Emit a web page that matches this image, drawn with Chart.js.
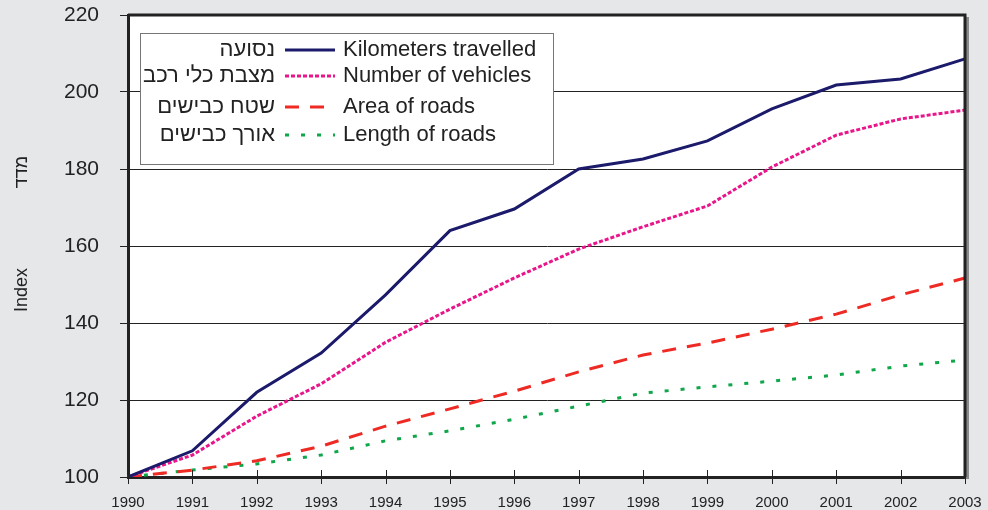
<!DOCTYPE html>
<html>
<head>
<meta charset="utf-8">
<script src="https://cdn.jsdelivr.net/npm/chart.js@4/dist/chart.umd.min.js"></script>
<style>
  html, body { margin: 0; padding: 0; background: #e6e7e9; }
  #wrap { width: 988px; height: 510px; }
</style>
</head>
<body>
<div id="wrap"><canvas id="chart" width="988" height="510"></canvas></div>
<script>
const years = ['1990','1991','1992','1993','1994','1995','1996','1997','1998','1999','2000','2001','2002','2003'];
const kmTravelled = [100, 106.8, 122, 132.2, 147.3, 164, 169.6, 180, 182.6, 187.3, 195.6, 201.8, 203.4, 208.6];
const vehicles = [100, 105.7, 115.8, 124.2, 135, 143.6, 151.7, 159.2, 165, 170.4, 180.5, 188.8, 193, 195.3];
const roadArea = [100, 101.8, 104.2, 108, 113.2, 117.7, 122.3, 127.3, 131.7, 134.8, 138.4, 142.3, 147.3, 151.7];
const roadLength = [100, 101.8, 103.4, 105.7, 109.4, 112, 115, 118.4, 121.8, 123.4, 124.9, 126.5, 128.8, 130.4];
const labelsEn = ['Kilometers travelled', 'Number of vehicles', 'Area of roads', 'Length of roads'];
const labelsHe = ['נסועה', 'מצבת כלי רכב', 'שטח כבישים', 'אורך כבישים'];

const FONT = '"Liberation Sans", Arial, sans-serif';
const legendRows = [50, 76, 107, 135];

// frame, crossing x ticks, legend box and axis titles
const extras = {
    id: 'extras',
    afterDraw(chart) {
        const c = chart.ctx, a = chart.chartArea;
        const x = chart.scales.x;
        c.save();
        // shadow on right side
        c.fillStyle = '#8a8a8a';
        c.fillRect(a.right + 1, a.top + 2, 3, a.bottom - a.top);
        c.strokeStyle = '#222';
        c.lineWidth = 3;
        c.beginPath();
        c.moveTo(a.left, a.top); c.lineTo(a.right, a.top); c.lineTo(a.right, a.bottom);
        c.stroke();
        // x ticks crossing the axis
        c.lineWidth = 1;
        years.forEach((y, i) => {
            const px = Math.round(x.getPixelForValue(i)) + 0.5;
            c.beginPath();
            c.moveTo(px, a.bottom - 7); c.lineTo(px, a.bottom + 7);
            c.stroke();
        });
        // legend box
        const bx = 140, by = 33, bw = 413, bh = 131;
        c.fillStyle = '#fff';
        c.fillRect(bx, by, bw, bh);
        c.strokeStyle = '#777';
        c.lineWidth = 1;
        c.strokeRect(bx + 0.5, by + 0.5, bw, bh);
        c.font = '22px ' + FONT;
        c.textBaseline = 'middle';
        chart.data.datasets.forEach((ds, i) => {
            const ly = legendRows[i];
            c.fillStyle = '#222';
            c.textAlign = 'right';
            c.fillText(labelsHe[i], 275, ly);
            c.textAlign = 'left';
            c.fillText(labelsEn[i], 343, ly);
            c.strokeStyle = ds.borderColor;
            c.lineWidth = ds.borderWidth;
            c.setLineDash(ds.borderDash || []);
            c.beginPath();
            c.moveTo(285, ly); c.lineTo(335, ly);
            c.stroke();
            c.setLineDash([]);
        });
        // y axis titles
        c.fillStyle = '#222';
        c.font = '18px ' + FONT;
        c.textAlign = 'center';
        c.textBaseline = 'middle';
        c.translate(22, 290);
        c.rotate(-Math.PI / 2);
        c.fillText('Index', 0, 0);
        c.rotate(Math.PI / 2);
        c.translate(0, -118);
        c.rotate(-Math.PI / 2);
        c.fillText('מדד', 0, 0);
        c.restore();
    }
};

const chartBg = {
    id: 'chartBg',
    beforeDraw(chart) {
        const c = chart.ctx, a = chart.chartArea;
        c.save();
        c.fillStyle = '#e6e7e9';
        c.fillRect(0, 0, chart.width, chart.height);
        c.fillStyle = '#fff';
        c.fillRect(a.left, a.top, a.right - a.left, a.bottom - a.top);
        c.restore();
    }
};

function noScalePad(s) {
    s.paddingTop = 0; s.paddingBottom = 0; s.paddingLeft = 0; s.paddingRight = 0;
}

new Chart(document.getElementById('chart'), {
    type: 'line',
    data: {
        labels: years,
        datasets: [
            { label: labelsEn[0], data: kmTravelled, borderColor: '#1c1a6b', borderWidth: 3 },
            { label: labelsEn[1], data: vehicles, borderColor: '#e8168a', borderWidth: 3, borderDash: [4, 2] },
            { label: labelsEn[2], data: roadArea, borderColor: '#ee2a24', borderWidth: 3, borderDash: [14, 11] },
            { label: labelsEn[3], data: roadLength, borderColor: '#10a64a', borderWidth: 3, borderDash: [4, 12] }
        ]
    },
    options: {
        responsive: false,
        animation: false,
        layout: { padding: { top: 15, right: 23, left: 0, bottom: 0 } },
        elements: { point: { radius: 0 }, line: { tension: 0 } },
        plugins: { legend: { display: false }, tooltip: { enabled: false } },
        scales: {
            x: {
                offset: false,
                grid: { drawOnChartArea: false, drawTicks: false },
                border: { color: '#222', width: 3 },
                ticks: { color: '#222', font: { family: FONT, size: 15 }, maxRotation: 0, autoSkip: false, padding: 17 },
                afterFit(s) { s.height = 33; noScalePad(s); }
            },
            y: {
                min: 100, max: 220,
                grid: { color: '#222', lineWidth: 1, tickLength: 8 },
                border: { color: '#222', width: 3 },
                ticks: { stepSize: 20, color: '#222', font: { family: FONT, size: 21 }, padding: 21 },
                afterFit(s) { s.width = 128; noScalePad(s); }
            }
        }
    },
    plugins: [chartBg, extras]
});
</script>
</body>
</html>
